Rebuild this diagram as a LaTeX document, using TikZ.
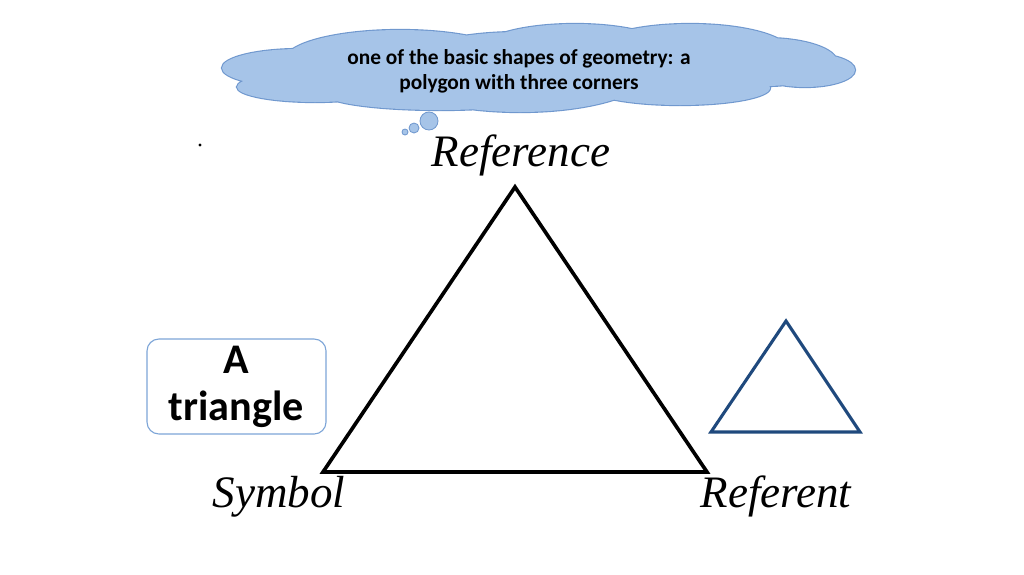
\documentclass[tikz,border=0pt]{standalone}
\usepackage{fontspec}
\setmainfont{Liberation Serif}
\newfontfamily\calibri{Carlito}
\usetikzlibrary{positioning}

\definecolor{cloudfill}{RGB}{166,196,232}
\definecolor{cloudline}{RGB}{112,152,206}
\definecolor{boxline}{RGB}{125,165,215}
\definecolor{navy}{RGB}{31,73,125}

\tikzset{
  corner/.style={font=\itshape\fontsize{32}{36}\selectfont, anchor=base, inner sep=0pt},
  wordbox/.style={draw=boxline, line width=0.8pt, rounded corners=0.3cm,
    minimum width=4.475cm, minimum height=2.375cm, align=center,
    font=\calibri\bfseries\fontsize{30}{33.5}\selectfont},
  thought/.style={align=center, font=\calibri\bfseries\fontsize{15.2}{18}\selectfont},
}

\newcommand{\puffs}{
  (300,68) ellipse [x radius=78, y radius=19]
  (315,87) ellipse [x radius=78, y radius=15]
  (400,60) ellipse [x radius=115, y radius=30]
  (520,72) ellipse [x radius=130, y radius=40]
  (575,50) ellipse [x radius=95, y radius=26]
  (690,52) ellipse [x radius=100, y radius=28]
  (765,62) ellipse [x radius=72, y radius=24]
  (805,70) ellipse [x radius=50, y radius=17]
  (680,88) ellipse [x radius=90, y radius=17]
  (440,94) ellipse [x radius=115, y radius=16]
}

\begin{document}
\begin{tikzpicture}[x=0.025cm, y=-0.025cm]
  \useasboundingbox (0,0) rectangle (1024,574);

  % thought cloud
  \draw[cloudline, line width=1.6pt] \puffs;
  \fill[cloudfill] \puffs;
  \filldraw[fill=cloudfill, draw=cloudline, line width=0.6pt]
    (429,121) circle [radius=9]
    (414,128) circle [radius=5]
    (405,132) circle [radius=3];
  \node[thought] (idea) at (519,71) {one of the basic shapes of geometry: a\\polygon with three corners};

  % stray dot
  \fill (200,145) circle [radius=1.6];

  % semiotic triangle
  \coordinate (top) at (515,187);
  \coordinate (left) at (323,472);
  \coordinate (right) at (707,472);
  \draw[line width=2.6pt] (top) -- (right) -- (left) -- cycle;

  \node[corner] (ref) at (521,166) {Reference};
  \node[corner] (sym) at (279,507) {Symbol};
  \node[corner] (obj) at (776,507) {Referent};

  % the word
  \node[wordbox] (word) at (236.5,386.5) {A\\triangle};

  % the thing
  \coordinate (ttop) at (786,321);
  \coordinate (tleft) at (711,432);
  \coordinate (tright) at (860,432);
  \draw[navy, line width=2.2pt] (ttop) -- (tright) -- (tleft) -- cycle;
\end{tikzpicture}
\end{document}
